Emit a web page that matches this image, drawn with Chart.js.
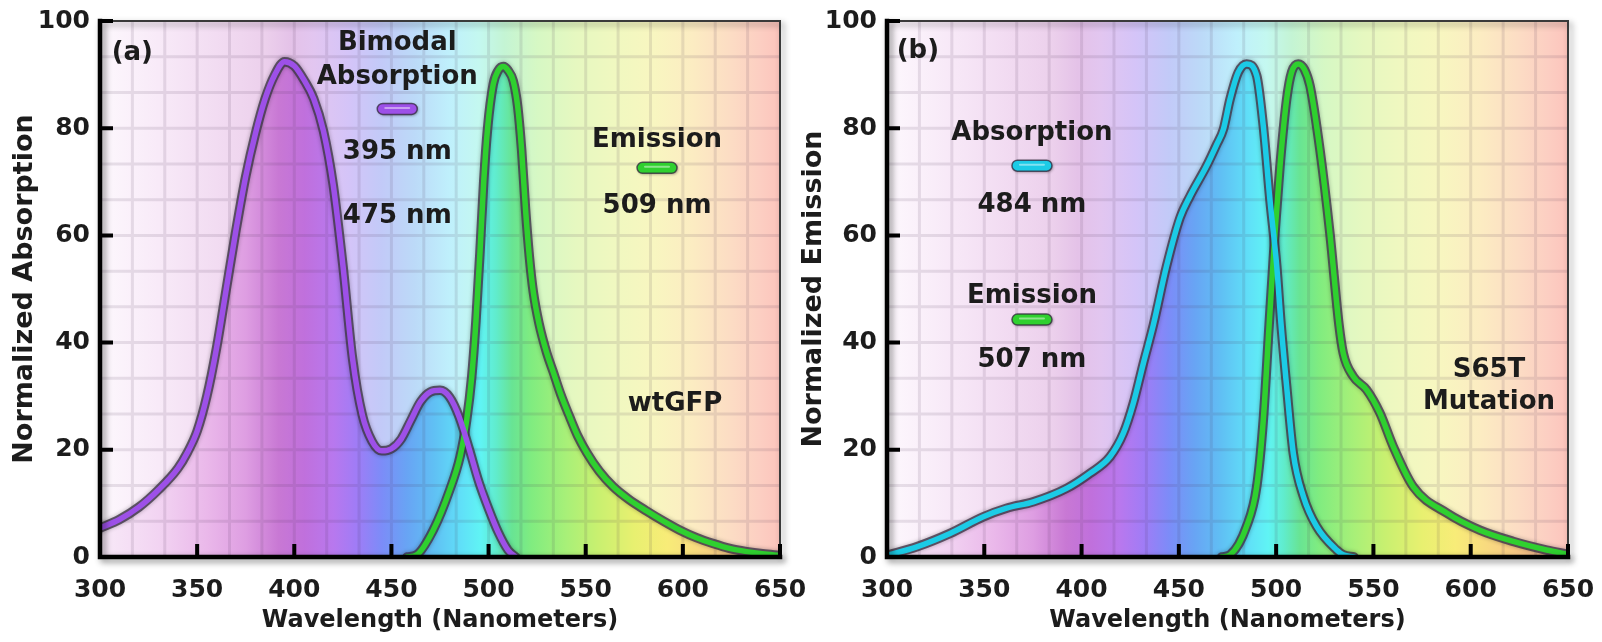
<!DOCTYPE html>
<html><head><meta charset="utf-8">
<script src="https://cdn.jsdelivr.net/npm/chart.js@4.4.0/dist/chart.umd.min.js"></script>
<style>
html,body{margin:0;padding:0;background:#fff;width:1602px;height:642px;overflow:hidden;position:relative}
#wa{position:absolute;left:0;top:0;width:830px;height:642px}
#wb{position:absolute;left:780px;top:0;width:822px;height:642px}
canvas{display:block}
</style></head><body>
<div id="wa"><canvas id="ca" width="830" height="642"></canvas></div>
<div id="wb"><canvas id="cb" width="822" height="642"></canvas></div>
<script>
// ---------- DATA ----------
const xTickValues = [300, 350, 400, 450, 500, 550, 600, 650];
const yTickValues = [0, 20, 40, 60, 80, 100];

// (a) wtGFP absorption (bimodal)
const wtAbsNm  = [300, 310, 320, 330, 340, 345, 350, 355, 360, 365, 370, 375, 380, 385, 390, 395, 400, 405, 410, 415, 420, 425, 430, 435, 440, 445, 450, 455, 460, 465, 470, 475, 480, 485, 490, 495, 500, 505, 510, 514];
const wtAbsVal = [5.4, 7, 9.3, 12.5, 16.5, 19.5, 23.5, 30, 39, 50, 61, 71, 79, 85.5, 90, 92.4, 91.6, 89, 85.5, 79.5, 69.5, 54.5, 37, 26.5, 21.6, 19.8, 20.2, 22, 25.5, 29, 30.8, 31.1, 29.8, 26, 20.2, 14, 9, 4.6, 1.3, 0];
// (a) wtGFP emission
const wtEmNm  = [458, 463, 471.5, 480, 485.3, 488.7, 491.3, 493.5, 495.6, 497.5, 499.5, 502.4, 505, 507.6, 510, 512.7, 515, 517, 519, 521, 523, 526, 530, 533.3, 537, 541.9, 546, 550.5, 557, 564.2, 572, 581.3, 590, 598.5, 607, 615.6, 624, 632.8, 641, 650];
const wtEmVal = [0, 0.4, 5, 12.5, 18.7, 25.5, 33.5, 44, 57, 70, 80, 88.2, 90.8, 91.5, 90.8, 88.8, 84, 76, 65, 56, 49.5, 43.5, 38, 34.5, 30.5, 26, 22.5, 19.5, 16, 13.1, 10.8, 8.6, 6.7, 5, 3.6, 2.5, 1.6, 1, 0.6, 0.3];

// (b) S65T absorption
const s65AbsNm  = [300, 315.3, 332.4, 349.5, 361.5, 375.2, 392.3, 404.3, 414.6, 421.5, 426.6, 431.8, 436.9, 443.7, 450.6, 455.7, 464.3, 469.5, 472.9, 476.3, 480.5, 484.8, 490, 493.4, 496.8, 500.3, 502.5, 505.4, 508.8, 514, 520.8, 531.1, 534.5, 540];
const s65AbsVal = [0.3, 1.9, 4.4, 7.5, 9.1, 10.3, 12.8, 15.6, 18.7, 23.1, 28.7, 36.2, 43.3, 54.3, 63.3, 67.3, 73, 77, 79.8, 85.4, 90.4, 92, 89.8, 80.4, 66.7, 54.3, 43.5, 31.8, 19.4, 11.3, 5.7, 1.3, 0.4, 0];
// (b) S65T emission
const s65EmNm  = [472, 476.3, 484.8, 490, 493.4, 496.4, 499.4, 502, 505.4, 508, 511.4, 514.5, 517.4, 522.5, 527.6, 532.3, 534.5, 539.6, 546.5, 553.3, 560.2, 570.5, 587.7, 604.7, 621.9, 639, 650];
const s65EmVal = [0, 0.4, 5.7, 13.1, 25.6, 43.3, 60.5, 73, 85.4, 90.5, 92, 91, 87.9, 76, 60.5, 43.3, 38, 33.7, 31.2, 26.9, 20.6, 13.1, 8.2, 5, 2.9, 1.3, 0.5];

// annotation texts (placed in data coordinates)
const notesA = [
  {t: '(a)', x: 306, y: 94.4, align: 'left'},
  {t: 'Bimodal', x: 453, y: 96.3},
  {t: 'Absorption', x: 453, y: 90},
  {swatch: 'purple', x: 453, y: 83.6},
  {t: '395 nm', x: 453, y: 76},
  {t: '475 nm', x: 453, y: 64},
  {t: 'Emission', x: 586.7, y: 78.2},
  {swatch: 'green', x: 586.7, y: 72.6},
  {t: '509 nm', x: 586.7, y: 65.9},
  {t: 'wtGFP', x: 596, y: 29}
];
const notesB = [
  {t: '(b)', x: 305, y: 94.8, align: 'left'},
  {t: 'Absorption', x: 374.5, y: 79.6},
  {swatch: 'cyan', x: 374.5, y: 73},
  {t: '484 nm', x: 374.5, y: 66.2},
  {t: 'Emission', x: 374.5, y: 49.2},
  {swatch: 'green', x: 374.5, y: 44.3},
  {t: '507 nm', x: 374.5, y: 37.2},
  {t: 'S65T', x: 609.4, y: 35.3},
  {t: 'Mutation', x: 609.4, y: 29.3}
];

// ---------- STYLE ----------
const FAMILY = "'DejaVu Sans', 'Liberation Sans', sans-serif";
const COLORS = {purple: '#9d50e8', green: '#2fd02f', cyan: '#1ccbe6', outline: 'rgba(66,56,76,0.82)', text: '#1c1c1c'};
const BG_STOPS = [[300,'#fdf8fd'],[330,'#f8eaf8'],[360,'#f2dcf2'],[385,'#ecd0ec'],[398,'#e4c2e8'],[410,'#e2c6f0'],[428,'#d4c4f8'],[445,'#c2caf8'],[462,'#bcdaf8'],[480,'#bff0fc'],[495,'#c4f8f0'],[508,'#c4f4d4'],[525,'#d6f8c4'],[545,'#e6f8c0'],[565,'#f0f8c0'],[585,'#f8f6c0'],[605,'#fcecc2'],[625,'#fcdcc4'],[640,'#fccec2'],[650,'#fcc4bc']];
const FILL_STOPS = [[300,'#f8eaf8'],[330,'#f2d4f2'],[355,'#eab8ea'],[375,'#de9ee2'],[392,'#c878d4'],[405,'#c070dc'],[420,'#b878ee'],[432,'#a07cf6'],[445,'#7c8cf8'],[458,'#68a4f4'],[472,'#60c0f4'],[486,'#60e0f8'],[496,'#60f4f4'],[504,'#60eccc'],[512,'#68e494'],[522,'#80ec80'],[540,'#a8f078'],[556,'#c8f070'],[575,'#e8f070'],[592,'#f8ec78'],[610,'#f8d880'],[628,'#f8c488'],[645,'#f8b098'],[650,'#f8a898']];

function toPts(nm, v) { return nm.map((x, i) => ({x: x, y: v[i]})); }

function gradientFor(chart, stops) {
  const xs = chart.scales.x;
  const x0 = xs.getPixelForValue(xs.min), x1 = xs.getPixelForValue(xs.max);
  const g = chart.ctx.createLinearGradient(x0, 0, x1, 0);
  stops.forEach(([nm, c]) => g.addColorStop((nm - xs.min) / (xs.max - xs.min), c));
  return g;
}
function fillGrad(c) {
  const ch = c.chart;
  if (!ch.chartArea || !ch.scales.x) return 'rgba(0,0,0,0)';
  return gradientFor(ch, FILL_STOPS);
}

function drawGrid(chart) {
  const {ctx, chartArea: a, scales: {x, y}} = chart;
  ctx.save();
  ctx.strokeStyle = 'rgba(70,50,80,0.12)';
  ctx.lineWidth = 3;
  ctx.filter = 'blur(0.7px)';
  ctx.beginPath();
  const xstep = 50 / 3, ystep = 20 / 3;
  for (let k = 1; x.min + k * xstep < x.max - 1; k++) {
    const px = x.getPixelForValue(x.min + k * xstep);
    ctx.moveTo(px, a.top); ctx.lineTo(px, a.bottom);
  }
  for (let k = 1; y.min + k * ystep < y.max - 0.5; k++) {
    const py = y.getPixelForValue(y.min + k * ystep);
    ctx.moveTo(a.left, py); ctx.lineTo(a.right, py);
  }
  ctx.stroke();
  ctx.restore();
}

function drawFrame(chart) {
  const {ctx, chartArea: a, scales: {x, y}} = chart;
  ctx.save();
  ctx.shadowColor = 'rgba(0,0,0,0.45)';
  ctx.shadowBlur = 6; ctx.shadowOffsetX = 3; ctx.shadowOffsetY = 3;
  ctx.strokeStyle = '#3a3a3a'; ctx.lineWidth = 2;
  ctx.beginPath();
  ctx.moveTo(a.left, a.top); ctx.lineTo(a.right, a.top); ctx.lineTo(a.right, a.bottom);
  ctx.stroke();
  ctx.strokeStyle = '#000'; ctx.lineWidth = 4.5; ctx.lineCap = 'square';
  ctx.beginPath();
  ctx.moveTo(a.left, a.top); ctx.lineTo(a.left, a.bottom); ctx.lineTo(a.right, a.bottom);
  ctx.stroke();
  ctx.restore();
  ctx.save();
  ctx.strokeStyle = '#000'; ctx.lineWidth = 4;
  ctx.beginPath();
  xTickValues.forEach(v => { if (v > x.min) { const px = x.getPixelForValue(v); ctx.moveTo(px, a.bottom); ctx.lineTo(px, a.bottom - 13); } });
  yTickValues.forEach(v => { if (v > y.min) { const py = y.getPixelForValue(v); ctx.moveTo(a.left, py); ctx.lineTo(a.left + 13, py); } });
  ctx.stroke();
  ctx.restore();
}

function drawNotes(chart, notes) {
  const {ctx, scales: {x, y}} = chart;
  ctx.save();
  notes.forEach(n => {
    const px = x.getPixelForValue(n.x), py = y.getPixelForValue(n.y);
    if (n.swatch) {
      const w = 40, h = 11;
      ctx.save();
      ctx.shadowColor = 'rgba(0,0,0,0.4)'; ctx.shadowBlur = 3; ctx.shadowOffsetX = 1; ctx.shadowOffsetY = 1;
      ctx.beginPath(); ctx.roundRect(px - w / 2, py - h / 2, w, h, h / 2);
      ctx.fillStyle = COLORS[n.swatch]; ctx.fill();
      ctx.restore();
      ctx.beginPath(); ctx.roundRect(px - w / 2, py - h / 2, w, h, h / 2);
      ctx.strokeStyle = 'rgba(50,40,60,0.75)'; ctx.lineWidth = 1.5; ctx.stroke();
      ctx.beginPath(); ctx.moveTo(px - 12, py - 1); ctx.lineTo(px + 12, py - 1);
      ctx.strokeStyle = 'rgba(255,255,255,0.45)'; ctx.lineWidth = 2; ctx.lineCap = 'round'; ctx.stroke();
    } else {
      ctx.font = 'bold 26px ' + FAMILY;
      ctx.fillStyle = COLORS.text;
      ctx.textAlign = n.align || 'center';
      ctx.textBaseline = 'alphabetic';
      ctx.fillText(n.t, px, py + 26 * 0.729 / 2);
    }
  });
  ctx.restore();
}

const decor = {
  id: 'decor',
  beforeDatasetsDraw(chart) {
    const {ctx, chartArea: a} = chart;
    ctx.save();
    ctx.fillStyle = gradientFor(chart, BG_STOPS);
    ctx.fillRect(a.left, a.top, a.width, a.height);
    ctx.restore();
  },
  beforeDatasetDraw(chart, args) {
    const ds = chart.data.datasets[args.index];
    if (ds.gridBefore) drawGrid(chart);
    if (ds.glow) { chart.ctx.save(); chart.ctx.shadowColor = 'rgba(0,0,0,0.35)'; chart.ctx.shadowBlur = 4; }
  },
  afterDatasetDraw(chart, args) {
    const ds = chart.data.datasets[args.index];
    if (ds.glow) chart.ctx.restore();
  },
  afterDatasetsDraw(chart, args, opts) {
    drawFrame(chart);
    drawNotes(chart, opts.notes);
  }
};

const curveCommon = {pointRadius: 0, cubicInterpolationMode: 'monotone', borderJoinStyle: 'round', borderCapStyle: 'round'};

function makeChart(id, cfg) {
  const abs = toPts(cfg.absNm, cfg.absVal), em = toPts(cfg.emNm, cfg.emVal);
  const tickFont = {family: FAMILY, size: 25, weight: 'bold'};
  return new Chart(document.getElementById(id), {
    type: 'line',
    data: {datasets: [
      Object.assign({label: 'Absorption', data: abs, borderColor: cfg.absColor, borderWidth: 5.5, fill: false, order: 0}, curveCommon),
      Object.assign({label: 'Emission', data: em, borderColor: COLORS.green, borderWidth: 5.5, fill: false, order: 1}, curveCommon),
      Object.assign({label: 'abs-outline', data: abs, borderColor: COLORS.outline, borderWidth: 9.5, fill: false, order: 2, glow: true}, curveCommon),
      Object.assign({label: 'em-outline', data: em, borderColor: COLORS.outline, borderWidth: 9.5, fill: false, order: 3, glow: true, gridBefore: true}, curveCommon),
      Object.assign({label: 'abs-fill', data: abs, borderWidth: 0, borderColor: 'rgba(0,0,0,0)', backgroundColor: fillGrad, fill: 'origin', order: 4}, curveCommon),
      Object.assign({label: 'em-fill', data: em, borderWidth: 0, borderColor: 'rgba(0,0,0,0)', backgroundColor: fillGrad, fill: 'origin', order: 5}, curveCommon)
    ]},
    options: {
      responsive: false, animation: false, events: [],
      layout: {padding: {left: 0, right: cfg.padRight, top: 21, bottom: 0}},
      plugins: {legend: {display: false}, tooltip: {enabled: false}, decor: {notes: cfg.notes}},
      scales: {
        x: {
          type: 'linear', min: 300, max: 650,
          afterBuildTicks: s => { s.ticks = xTickValues.map(v => ({value: v})); },
          ticks: {font: tickFont, color: COLORS.text, padding: 4, autoSkip: false, maxRotation: 0},
          grid: {display: true, drawOnChartArea: false, drawTicks: true, tickLength: 14, color: 'rgba(0,0,0,0)'},
          border: {display: false},
          title: {display: true, text: 'Wavelength (Nanometers)', font: {family: FAMILY, size: 24, weight: 'bold'}, color: COLORS.text, padding: {top: 0, bottom: 7}},
          afterFit: s => { s.height = 85; }
        },
        y: {
          type: 'linear', min: 0, max: 100,
          afterBuildTicks: s => { s.ticks = yTickValues.map(v => ({value: v})); },
          ticks: {font: tickFont, color: COLORS.text, padding: 4},
          grid: {display: true, drawOnChartArea: false, drawTicks: true, tickLength: 6, color: 'rgba(0,0,0,0)'},
          border: {display: false},
          title: {display: true, text: cfg.yTitle, font: {family: FAMILY, size: 27, weight: 'bold'}, color: COLORS.text, padding: {top: cfg.yTitlePad, bottom: 0}},
          afterFit: s => { s.width = cfg.yWidth; }
        }
      }
    },
    plugins: [decor]
  });
}

makeChart('ca', {absNm: wtAbsNm, absVal: wtAbsVal, emNm: wtEmNm, emVal: wtEmVal, absColor: COLORS.purple,
  notes: notesA, yTitle: 'Normalized Absorption', yWidth: 100, yTitlePad: 9, padRight: 50});
makeChart('cb', {absNm: s65AbsNm, absVal: s65AbsVal, emNm: s65EmNm, emVal: s65EmVal, absColor: COLORS.cyan,
  notes: notesB, yTitle: 'Normalized Emission', yWidth: 107, yTitlePad: 18, padRight: 34});
</script>
</body></html>
